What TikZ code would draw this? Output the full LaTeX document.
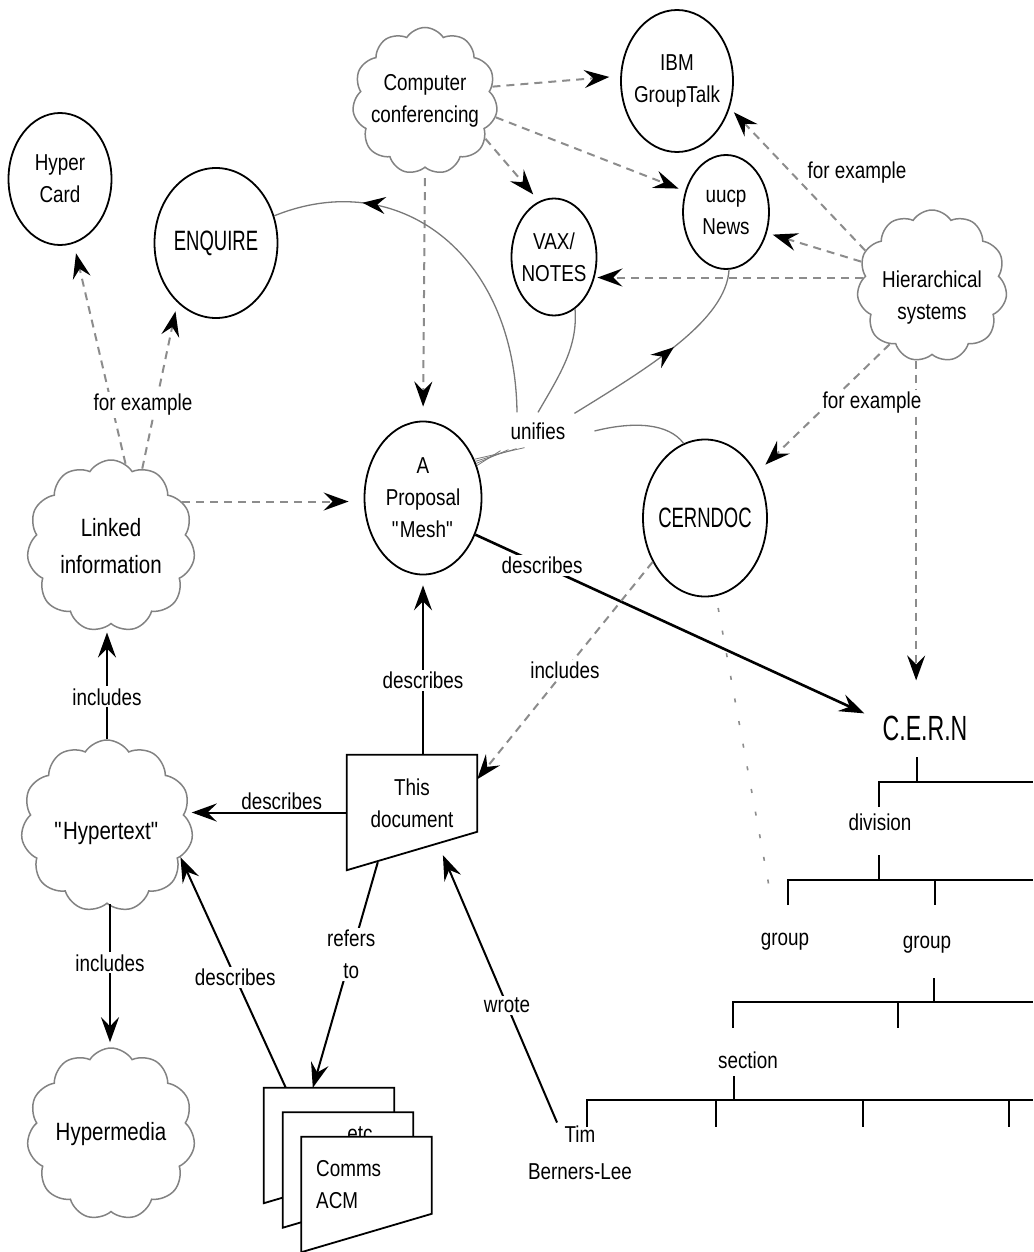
\documentclass[tikz,border=0pt]{standalone}
\usepackage{fontspec}
\setmainfont{Liberation Sans}[FakeStretch=0.82]
\newfontfamily\narrowfont{Liberation Sans}[FakeStretch=0.66]
\usetikzlibrary{arrows.meta,shapes.geometric,shapes.symbols,calc,decorations.markings}
\definecolor{dashgray}{RGB}{140,140,140}
\definecolor{cloudgray}{RGB}{130,130,130}
\definecolor{unigray}{RGB}{120,120,120}
\newcommand\labfont{\fontsize{23}{32}\selectfont}
\newcommand\cldfont{\fontsize{25}{37}\selectfont}
\newcommand\nrwfont{\narrowfont\fontsize{28}{32}\selectfont}
\begin{document}
\begin{tikzpicture}[x=1pt,y=-1pt,font=\labfont,
  ell/.style={ellipse,draw,line width=1.8pt,inner sep=0pt},
  cld/.style={cloud,cloud puffs=11,cloud puff arc=115,cloud ignores aspect,draw=cloudgray,line width=1.5pt,inner sep=0pt},
  intext/.style={align=center,font=\labfont},
  cldtext/.style={align=center,font=\cldfont},
  lbl/.style={inner sep=2pt,align=center},
  wlbl/.style={lbl,fill=white},
  dsh/.style={draw=dashgray,line width=2pt,dash pattern=on 8pt off 6pt,-{Stealth[color=black,length=25pt,width=18pt,inset=9pt]}},
  sol/.style={draw=black,line width=2pt,-{Stealth[length=25pt,width=18pt,inset=9pt]}},
  uni/.style={draw=unigray,line width=1.3pt},
  midarr/.style={postaction={decorate},decoration={markings,mark=at position #1 with {\arrow{Stealth[color=black,length=23pt,width=17pt,inset=8pt]}}}},
  tree/.style={line width=2pt},
  docbox/.style={minimum width=130pt,minimum height=115pt,inner sep=0pt},
  docline/.style={draw,line width=1.8pt,fill=white,line join=miter}
]
\useasboundingbox (0,0) rectangle (1033,1252);

% ellipses
\node[ell,minimum width=103pt,minimum height=132pt,label={[intext]center:Hyper\\Card}] (hc) at (60,179) {};
\node[ell,minimum width=123pt,minimum height=150pt,label={[font=\nrwfont]center:ENQUIRE}] (enq) at (216,243) {};
\node[ell,minimum width=112pt,minimum height=142pt,label={[intext]center:IBM\\GroupTalk}] (ibm) at (677,81) {};
\node[ell,minimum width=86pt,minimum height=114pt,label={[intext]center:uucp\\News}] (uucp) at (726,212) {};
\node[ell,minimum width=85pt,minimum height=117pt,label={[intext]center:VAX/\\NOTES}] (vax) at (554,257) {};
\node[ell,minimum width=117pt,minimum height=153pt,label={[intext]center:A\\Proposal\\\textquotedbl Mesh\textquotedbl}] (mesh) at (423,498) {};
\node[ell,minimum width=124pt,minimum height=157pt,label={[font=\nrwfont]center:CERNDOC}] (cdoc) at (705,518) {};

% clouds
\node[cld,minimum width=145pt,minimum height=147pt,label={[intext]center:Computer\\conferencing}] (cc) at (425,101) {};
\node[cld,minimum width=150pt,minimum height=152pt,label={[intext,yshift=-12pt]center:Hierarchical\\systems}] (hier) at (932,286) {};
\node[cld,minimum width=168pt,minimum height=172pt,label={[cldtext]center:Linked\\information}] (li) at (111,546) {};
\node[cld,minimum width=172pt,minimum height=172pt,label={[cldtext,yshift=-7pt]center:\textquotedbl Hypertext\textquotedbl}] (ht) at (107,826) {};
\node[cld,minimum width=168pt,minimum height=172pt,label={[cldtext]center:Hypermedia}] (hm) at (111,1134) {};

% this document
\node[docbox] (doc) at (412,812.5) {};
\draw[docline] (doc.north west) -- (doc.north east) -- ($(doc.north east)+(0,77)$) -- (doc.south west) -- cycle;
\node[intext] (doctxt) at (412,803) {This\\document};

% tree text
\node[font={\narrowfont\fontsize{35}{40}\selectfont},inner sep=0pt] (cern) at (925,728) {C.E.R.N};
\node (div) at (880,822) {division};
\node (g1) at (785,942) {group};
\node (g2) at (927,945) {group};
\node (sec) at (748,1060) {section};
\node[align=center,font=\fontsize{23}{37}\selectfont] (tim) at (580,1153) {Tim\\Berners-Lee};

% tree lines
\draw[tree] (917,757) -- (917,782);
\draw[tree] (879,807) |- (1033,782);
\draw[tree] (879,855) -- (879,880);
\draw[tree] (788,905) |- (1033,880);
\draw[tree] (935,880) -- (935,905);
\draw[tree] (934,978) -- (934,1002);
\draw[tree] (733,1028) |- (1033,1002);
\draw[tree] (898,1002) -- (898,1028);
\draw[tree] (734,1076) -- (734,1100);
\draw[tree] (587,1127) |- (1033,1100);
\draw[tree] (716,1100) -- (716,1127);
\draw[tree] (863,1100) -- (863,1127);
\draw[tree] (1009,1100) -- (1009,1127);

% dashed "for example" connectors
\draw[dsh,shorten >=10pt] (li.80) -- (hc.-78);
\draw[dsh,shorten >=9pt] (li.68) -- (enq.-123);
\node[wlbl] (fe1) at (143,405) {for example};
\draw[dsh,shorten >=15pt] (li.32) -- (li.32 -| mesh.west);
\draw[dsh,shorten <=10pt,shorten >=14pt] (cc.south) -- (mesh.north);
\draw[dsh,shorten >=11pt] (cc.12) -- (ibm.175);
\draw[dsh,shorten >=7pt] (cc.-13) -- (uucp.153);
\draw[dsh,shorten >=9pt] (cc.-32) -- (vax.105);
\draw[dsh,shorten >=6pt] (hier.152) -- (ibm.-27);
\node[lbl] (fe2) at (857,173) {for example};
\draw[dsh,shorten >=6pt] (hier.161) -- (uucp.-27);
\draw[dsh] (hier.173) -- (hier.173 -| vax.east);
\draw[dsh,shorten >=12pt] (hier.-126) -- (cdoc.41);
\draw[dsh,shorten >=35pt] (hier.-102) -- (hier.-102 |- cern.north);
\node[wlbl] (fe3) at (872,403) {for example};

% unifies
\node[lbl] (un) at (538,431) {unifies};
\draw[uni,midarr=0.76] ($(un.north)+(-21,-8)$) .. controls +(-2,-160) and +(123,-50) .. (enq.25);
\draw[uni] ($(un.north)+(0,-8)$) .. controls +(22,-38) and +(3,38) .. (vax.-68);
\draw[uni,midarr=0.55] ($(un.north east)+(7,-7)$) .. controls +(78,-48) and +(-3,50) .. (uucp.-87);
\draw[uni] ($(un.east)+(27,0)$) .. controls +(40,-10) and +(-15,-20) .. (cdoc.106);
\foreach \a/\dx/\dy in {31/-8/9,33/0/8,35/8/7,37/16/6}
  \draw[uni,line width=0.8pt] (mesh.\a) -- ($(un.south west)+(\dx,\dy)$);

% solid connectors
\draw[sol,line width=2.6pt,shorten >=20pt] (mesh.-35) -- node[wlbl,pos=0.164] (l1) {describes} ($(cern.north west)!0.5!(cern.west)$);
\draw[sol,shorten >=10pt] (mesh.south |- doc.north) -- node[wlbl,pos=0.415] (l2) {describes} (mesh.south);
\draw[sol] (doc.west) -- node[lbl,above,pos=0.42] (l3) {describes} (doc.west -| ht.east);
\draw[dsh] (cdoc.220) -- node[wlbl,pos=0.5] (l4) {includes} (doc.27);
\draw[draw=dashgray,line width=1.6pt,dash pattern=on 4pt off 19pt,shorten <=12pt,shorten >=33pt] (cdoc.-82) -- ($(g1.north)+(-8,0)$);
\draw[sol,shorten >=8pt] (ht.north) -- node[wlbl,pos=0.37] (l5) {includes} (ht.north |- li.south);
\draw[sol,shorten >=5pt] ($(ht.south)+(3,0)$) -- node[wlbl,pos=0.41] (l6) {includes} ($(ht.south |- hm.north)+(3,0)$);

% document stack
\node[docbox] (d1) at (329,1145.5) {};
\node[docbox] (d2) at (348,1170) {};
\node[docbox] (d3) at (366.5,1194.5) {};
\draw[sol] ($(d1.north west)+(22,0)$) -- node[wlbl,pos=0.48] (l7) {describes} (ht.-23);
\draw[sol] ($(doc.south west)+(31,-8)$) -- node[wlbl,pos=0.41] (l8) {refers\\to} ($(d1.north west)+(49,0)$);
\draw[sol,shorten >=13pt] (tim.127) -- node[wlbl,pos=0.42] (l9) {wrote} ($(doc.south west)+(91,-27)$);
\draw[docline] (d1.north west) -- (d1.north east) -- ($(d1.north east)+(0,77)$) -- (d1.south west) -- cycle;
\draw[docline] (d2.north west) -- (d2.north east) -- ($(d2.north east)+(0,77)$) -- (d2.south west) -- cycle;
\node[anchor=base] (etc) at (360,1141) {etc};
\draw[docline] (d3.north west) -- (d3.north east) -- ($(d3.north east)+(0,77)$) -- (d3.south west) -- cycle;
\node[align=left,inner sep=0pt,anchor=west] (acm) at (316,1185) {Comms\\ACM};
\end{tikzpicture}
\end{document}
